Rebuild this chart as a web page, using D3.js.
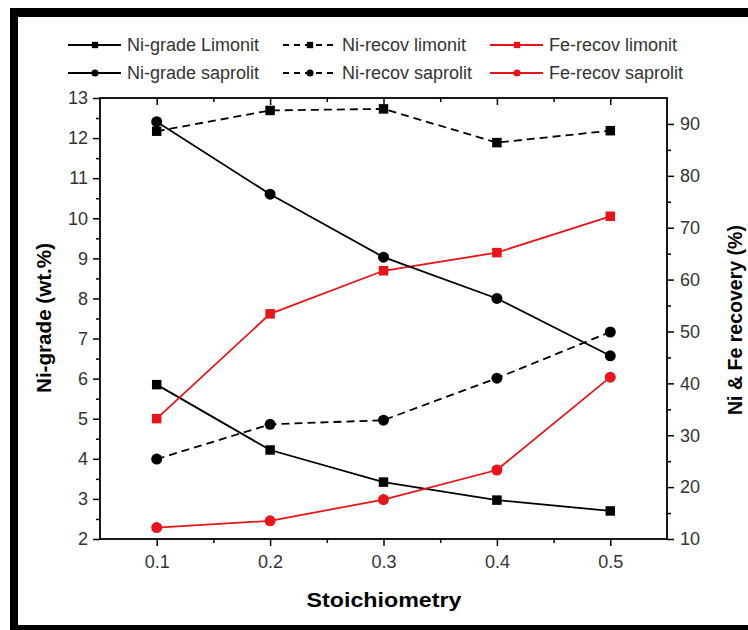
<!doctype HTML>
<html>
<head>
    <script src="https://d3js.org/d3.v7.min.js"></script>
    <style>
        body { margin: 0; background: #fff; }
        text { font-family: "Liberation Sans", Arial, sans-serif; }
    </style>
</head>
<body>
<script>
    // values
    var stoich = [0.1, 0.2, 0.3, 0.4, 0.5];
    var niGradeLimonit = [5.85, 4.22, 3.42, 2.97, 2.70];
    var niGradeSaprolit = [12.41, 10.6, 9.03, 8.0, 6.57];
    var niRecovLimonit = [88.6, 92.6, 92.9, 86.4, 88.7];
    var niRecovSaprolit = [25.4, 32.1, 32.9, 41.0, 49.9];
    var feRecovLimonit = [33.2, 53.4, 61.7, 65.2, 72.2];
    var feRecovSaprolit = [12.2, 13.5, 17.6, 23.3, 41.2];

    var xTicks = [0.1, 0.2, 0.3, 0.4, 0.5];
    var leftTicks = [2, 3, 4, 5, 6, 7, 8, 9, 10, 11, 12, 13];
    var rightTicks = [10, 20, 30, 40, 50, 60, 70, 80, 90];

    var series = [
        {name: "Ni-grade Limonit", values: niGradeLimonit, axis: "left", color: "#000", dash: null, shape: "square"},
        {name: "Ni-recov limonit", values: niRecovLimonit, axis: "right", color: "#000", dash: "8,5", shape: "square"},
        {name: "Fe-recov limonit", values: feRecovLimonit, axis: "right", color: "#e8141a", dash: null, shape: "square"},
        {name: "Ni-grade saprolit", values: niGradeSaprolit, axis: "left", color: "#000", dash: null, shape: "circle"},
        {name: "Ni-recov saprolit", values: niRecovSaprolit, axis: "right", color: "#000", dash: "8,5", shape: "circle"},
        {name: "Fe-recov saprolit", values: feRecovSaprolit, axis: "right", color: "#e8141a", dash: null, shape: "circle"}
    ];

    var canvasWidth = 748;
    var canvasHeight = 630;
    var plot = {left: 100, top: 98, right: 667, bottom: 539};

    var svg = d3.select("body").append("svg")
        .attr("width", canvasWidth)
        .attr("height", canvasHeight);

    // black frame from the scan
    svg.append("rect").attr("x", 10).attr("y", 8).attr("width", 738).attr("height", 9).attr("fill", "#000");
    svg.append("rect").attr("x", 10).attr("y", 8).attr("width", 8).attr("height", 622).attr("fill", "#000");
    svg.append("rect").attr("x", 10).attr("y", 625).attr("width", 738).attr("height", 5).attr("fill", "#000");

    var xScale = d3.scaleLinear().domain([0.05, 0.55]).range([plot.left, plot.right]);
    var yLeft = d3.scaleLinear().domain([2, 13]).range([plot.bottom, plot.top]);
    var yRight = d3.scaleLinear().domain([10, 95]).range([plot.bottom, plot.top]);

    function styleAxis(g) {
        g.select(".domain").remove();
        g.selectAll("line").attr("stroke", "#000").attr("stroke-width", 1.5);
        g.selectAll("text").attr("fill", "#333").attr("font-size", "18px");
    }

    var minorX = [0.15, 0.25, 0.35, 0.45];
    var minorLeft = d3.range(2.5, 13, 1);
    var minorRight = d3.range(15, 95, 10);

    // bottom axis
    svg.append("g")
        .attr("transform", "translate(0," + plot.bottom + ")")
        .call(d3.axisBottom(xScale).tickValues(xTicks).tickSize(7).tickPadding(9).tickFormat(d3.format(".1f")))
        .call(styleAxis);
    svg.append("g")
        .attr("transform", "translate(0," + plot.bottom + ")")
        .call(d3.axisBottom(xScale).tickValues(minorX).tickSize(4).tickFormat(""))
        .call(styleAxis);

    // top axis, ticks inward
    svg.append("g")
        .attr("transform", "translate(0," + plot.top + ")")
        .call(d3.axisBottom(xScale).tickValues(xTicks).tickSize(7).tickFormat(""))
        .call(styleAxis);
    svg.append("g")
        .attr("transform", "translate(0," + plot.top + ")")
        .call(d3.axisBottom(xScale).tickValues(minorX).tickSize(4).tickFormat(""))
        .call(styleAxis);

    // left axis
    svg.append("g")
        .attr("transform", "translate(" + plot.left + ",0)")
        .call(d3.axisLeft(yLeft).tickValues(leftTicks).tickSize(7).tickPadding(5))
        .call(styleAxis);
    svg.append("g")
        .attr("transform", "translate(" + plot.left + ",0)")
        .call(d3.axisLeft(yLeft).tickValues(minorLeft).tickSize(4).tickFormat(""))
        .call(styleAxis);

    // right axis
    svg.append("g")
        .attr("transform", "translate(" + plot.right + ",0)")
        .call(d3.axisRight(yRight).tickValues(rightTicks).tickSize(7).tickPadding(6))
        .call(styleAxis);
    svg.append("g")
        .attr("transform", "translate(" + plot.right + ",0)")
        .call(d3.axisRight(yRight).tickValues(minorRight).tickSize(4).tickFormat(""))
        .call(styleAxis);

    // plot frame
    svg.append("rect")
        .attr("x", plot.left).attr("y", plot.top)
        .attr("width", plot.right - plot.left).attr("height", plot.bottom - plot.top)
        .attr("fill", "none").attr("stroke", "#000").attr("stroke-width", 1.8);

    // axis titles
    svg.append("text")
        .attr("transform", "translate(51,318) rotate(-90)")
        .attr("text-anchor", "middle")
        .attr("font-size", "21px").attr("font-weight", "bold")
        .attr("textLength", 150).attr("lengthAdjust", "spacingAndGlyphs")
        .text("Ni-grade (wt.%)");
    svg.append("text")
        .attr("transform", "translate(742,320) rotate(-90)")
        .attr("text-anchor", "middle")
        .attr("font-size", "21px").attr("font-weight", "bold")
        .attr("textLength", 190).attr("lengthAdjust", "spacingAndGlyphs")
        .text("Ni & Fe recovery (%)");
    svg.append("text")
        .attr("x", 384)
        .attr("y", 607)
        .attr("text-anchor", "middle")
        .attr("font-size", "21px").attr("font-weight", "bold")
        .attr("textLength", 155).attr("lengthAdjust", "spacingAndGlyphs")
        .text("Stoichiometry");

    // lines and markers
    series.forEach(function(s) {
        var y = s.axis === "left" ? yLeft : yRight;
        var pts = stoich.map(function(x, i) { return [x, s.values[i]]; });
        var line = d3.line().x(function(d) { return xScale(d[0]); }).y(function(d) { return y(d[1]); });
        svg.append("path")
            .attr("d", line(pts))
            .attr("fill", "none")
            .attr("stroke", s.color)
            .attr("stroke-width", 1.8)
            .attr("stroke-dasharray", s.dash);
        var sym = d3.symbol().type(s.shape === "square" ? d3.symbolSquare : d3.symbolCircle).size(s.shape === "square" ? 90 : 95);
        svg.selectAll(null)
            .data(pts)
            .enter().append("path")
            .attr("transform", function(d) { return "translate(" + xScale(d[0]) + "," + y(d[1]) + ")"; })
            .attr("d", sym)
            .attr("fill", s.color);
    });

    // legend
    var colX = [68, 283, 490];
    var rowY = [45, 73];
    var legend = svg.append("g");
    series.forEach(function(s, i) {
        var x0 = colX[i % 3];
        var yy = rowY[Math.floor(i / 3)];
        var g = legend.append("g").attr("transform", "translate(" + x0 + "," + yy + ")");
        g.append("line")
            .attr("x1", 0).attr("x2", 53).attr("y1", 0).attr("y2", 0)
            .attr("stroke", s.color).attr("stroke-width", 1.8)
            .attr("stroke-dasharray", s.dash ? "6,5" : null);
        g.append("path")
            .attr("transform", "translate(27,0)")
            .attr("d", d3.symbol().type(s.shape === "square" ? d3.symbolSquare : d3.symbolCircle).size(40))
            .attr("fill", s.color);
        g.append("text")
            .attr("x", 59).attr("y", 6)
            .attr("font-size", "18px").attr("fill", "#333")
            .text(s.name);
    });
</script>
</body>
</html>
